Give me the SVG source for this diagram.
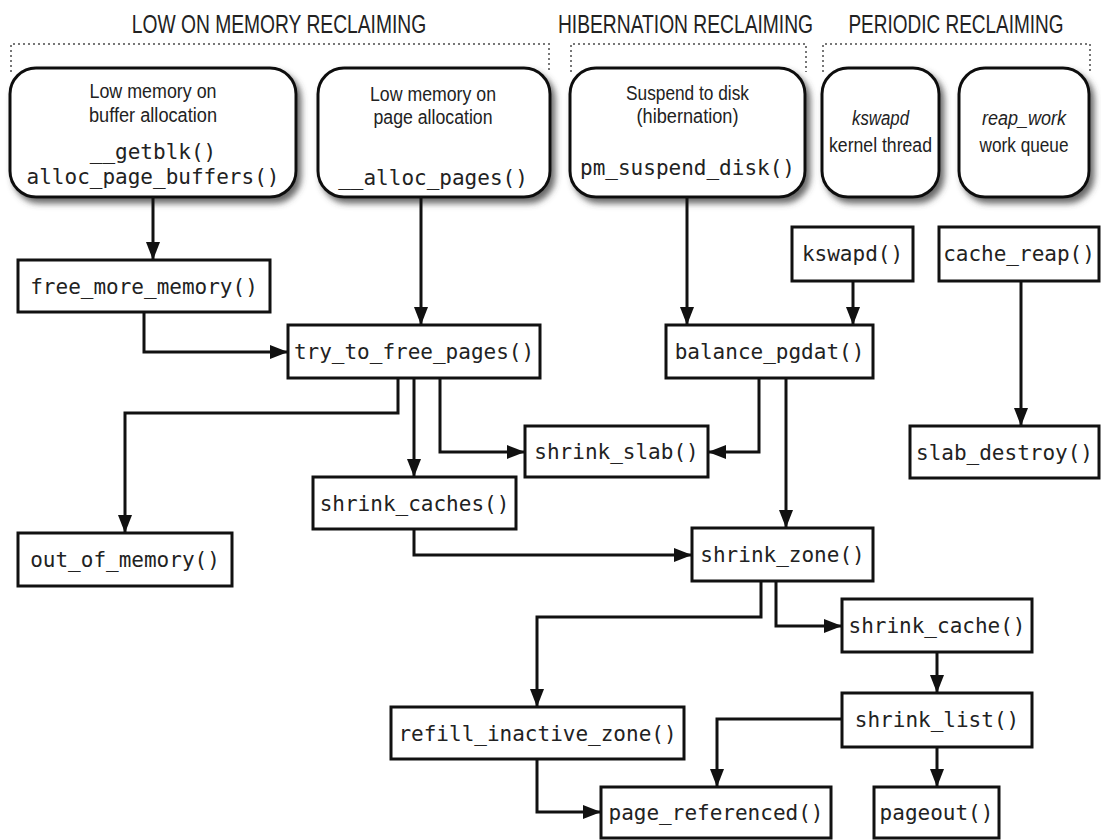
<svg xmlns="http://www.w3.org/2000/svg" width="1101" height="840" viewBox="0 0 1101 840">
<style>
  .hdr { font-family: "Liberation Sans", Arial, sans-serif; font-size: 25px; fill: #222; text-anchor: middle; }
  .lbl { font-family: "Liberation Sans", Arial, sans-serif; font-size: 20px; fill: #222; text-anchor: middle; }
  .it { font-style: italic; }
  .mono { font-family: "DejaVu Sans Mono", "Liberation Mono", monospace; font-size: 21px; fill: #222; text-anchor: middle; }
  .rbox { fill: #fff; stroke: #111; stroke-width: 3; }
  .box { fill: #fff; stroke: #111; stroke-width: 3; }
  .brk { fill: none; stroke: #777; stroke-width: 2; stroke-dasharray: 2 3; }
  .con { fill: none; stroke: #111; stroke-width: 3; marker-end: url(#arr); }
</style>
<defs>
  <marker id="arr" markerUnits="userSpaceOnUse" markerWidth="18" markerHeight="14" refX="18" refY="7" orient="auto">
    <path d="M0,0 L18,7 L0,14 z" fill="#111"/>
  </marker>
  <filter id="shadow" x="-10%" y="-10%" width="125%" height="130%">
    <feDropShadow dx="4" dy="5" stdDeviation="3" flood-color="#444" flood-opacity="0.8"/>
  </filter>
</defs>
<rect width="1101" height="840" fill="#fff"/>

<g id="headers">
  <text class="hdr" transform="translate(279,33) scale(0.77,1)">LOW ON MEMORY RECLAIMING</text>
  <text class="hdr" transform="translate(685.5,33) scale(0.77,1)">HIBERNATION RECLAIMING</text>
  <text class="hdr" transform="translate(956,33) scale(0.76,1)">PERIODIC RECLAIMING</text>
  <path class="brk" d="M11,72 V44 H549 V72"/>
  <path class="brk" d="M571,72 V44 H806 V72"/>
  <path class="brk" d="M823,72 V44 H1090 V72"/>
</g>

<g id="src-buffer">
  <rect class="rbox" x="10" y="68" width="286" height="129" rx="26" filter="url(#shadow)"/>
  <text class="lbl" x="153" y="98" textLength="127" lengthAdjust="spacingAndGlyphs">Low memory on</text>
  <text class="lbl" x="153" y="122" textLength="128" lengthAdjust="spacingAndGlyphs">buffer allocation</text>
  <text class="mono" x="153" y="159">__getblk()</text>
  <text class="mono" x="153" y="184">alloc_page_buffers()</text>
</g>
<g id="src-page">
  <rect class="rbox" x="318" y="68" width="232" height="129" rx="26" filter="url(#shadow)"/>
  <text class="lbl" x="433" y="101" textLength="126" lengthAdjust="spacingAndGlyphs">Low memory on</text>
  <text class="lbl" x="433" y="124" textLength="119" lengthAdjust="spacingAndGlyphs">page allocation</text>
  <text class="mono" x="433" y="185">__alloc_pages()</text>
</g>
<g id="src-hibernation">
  <rect class="rbox" x="570" y="68" width="235" height="129" rx="26" filter="url(#shadow)"/>
  <text class="lbl" x="687.5" y="100" textLength="123" lengthAdjust="spacingAndGlyphs">Suspend to disk</text>
  <text class="lbl" x="687.5" y="123" textLength="102" lengthAdjust="spacingAndGlyphs">(hibernation)</text>
  <text class="mono" x="687.5" y="175">pm_suspend_disk()</text>
</g>
<g id="src-kswapd">
  <rect class="rbox" x="822" y="68" width="117" height="129" rx="26" filter="url(#shadow)"/>
  <text class="lbl it" x="880.5" y="125" textLength="57" lengthAdjust="spacingAndGlyphs">kswapd</text>
  <text class="lbl" x="880.5" y="152" textLength="103" lengthAdjust="spacingAndGlyphs">kernel thread</text>
</g>
<g id="src-reapwork">
  <rect class="rbox" x="959" y="68" width="130" height="129" rx="26" filter="url(#shadow)"/>
  <text class="lbl it" x="1024" y="125" textLength="84" lengthAdjust="spacingAndGlyphs">reap_work</text>
  <text class="lbl" x="1024" y="152" textLength="89" lengthAdjust="spacingAndGlyphs">work queue</text>
</g>

<g id="connectors">
  <path class="con" d="M153,197 V260"/>
  <path class="con" d="M421,197 V325"/>
  <path class="con" d="M144,312 V352 H288"/>
  <path class="con" d="M687,197 V325"/>
  <path class="con" d="M853,281 V325"/>
  <path class="con" d="M1021,281 V426"/>
  <path class="con" d="M398,378 V413 H125 V533"/>
  <path class="con" d="M414,378 V477"/>
  <path class="con" d="M440,378 V452 H525"/>
  <path class="con" d="M759,378 V452 H708"/>
  <path class="con" d="M786,378 V528"/>
  <path class="con" d="M414,529 V555 H692"/>
  <path class="con" d="M761,581 V617 H537 V707"/>
  <path class="con" d="M776,581 V626 H842"/>
  <path class="con" d="M937,652 V693"/>
  <path class="con" d="M842,719 H717 V787"/>
  <path class="con" d="M937,747 V787"/>
  <path class="con" d="M537,759 V812 H601"/>
</g>

<g id="free_more_memory"><rect class="box" x="18" y="260" width="252" height="52"/><text class="mono" x="144" y="294">free_more_memory()</text></g>
<g id="try_to_free_pages"><rect class="box" x="288" y="325" width="252" height="53"/><text class="mono" x="414" y="359">try_to_free_pages()</text></g>
<g id="kswapd"><rect class="box" x="792" y="227" width="121" height="54"/><text class="mono" x="852.5" y="261">kswapd()</text></g>
<g id="cache_reap"><rect class="box" x="939" y="227" width="160" height="54"/><text class="mono" x="1019" y="261">cache_reap()</text></g>
<g id="balance_pgdat"><rect class="box" x="666" y="325" width="207" height="53"/><text class="mono" x="769.5" y="359">balance_pgdat()</text></g>
<g id="shrink_slab"><rect class="box" x="525" y="426" width="183" height="51"/><text class="mono" x="616.5" y="459">shrink_slab()</text></g>
<g id="slab_destroy"><rect class="box" x="910" y="426" width="189" height="52"/><text class="mono" x="1004.5" y="460">slab_destroy()</text></g>
<g id="shrink_caches"><rect class="box" x="313" y="477" width="203" height="52"/><text class="mono" x="414.5" y="511">shrink_caches()</text></g>
<g id="out_of_memory"><rect class="box" x="18" y="533" width="214" height="53"/><text class="mono" x="125" y="567">out_of_memory()</text></g>
<g id="shrink_zone"><rect class="box" x="692" y="528" width="181" height="53"/><text class="mono" x="782.5" y="562">shrink_zone()</text></g>
<g id="shrink_cache"><rect class="box" x="842" y="599" width="190" height="53"/><text class="mono" x="937" y="633">shrink_cache()</text></g>
<g id="shrink_list"><rect class="box" x="842" y="693" width="190" height="54"/><text class="mono" x="937" y="727">shrink_list()</text></g>
<g id="refill_inactive_zone"><rect class="box" x="391" y="707" width="293" height="52"/><text class="mono" x="537.5" y="741">refill_inactive_zone()</text></g>
<g id="page_referenced"><rect class="box" x="601" y="787" width="230" height="51"/><text class="mono" x="716" y="820">page_referenced()</text></g>
<g id="pageout"><rect class="box" x="874" y="787" width="125" height="51"/><text class="mono" x="936.5" y="820">pageout()</text></g>
</svg>
